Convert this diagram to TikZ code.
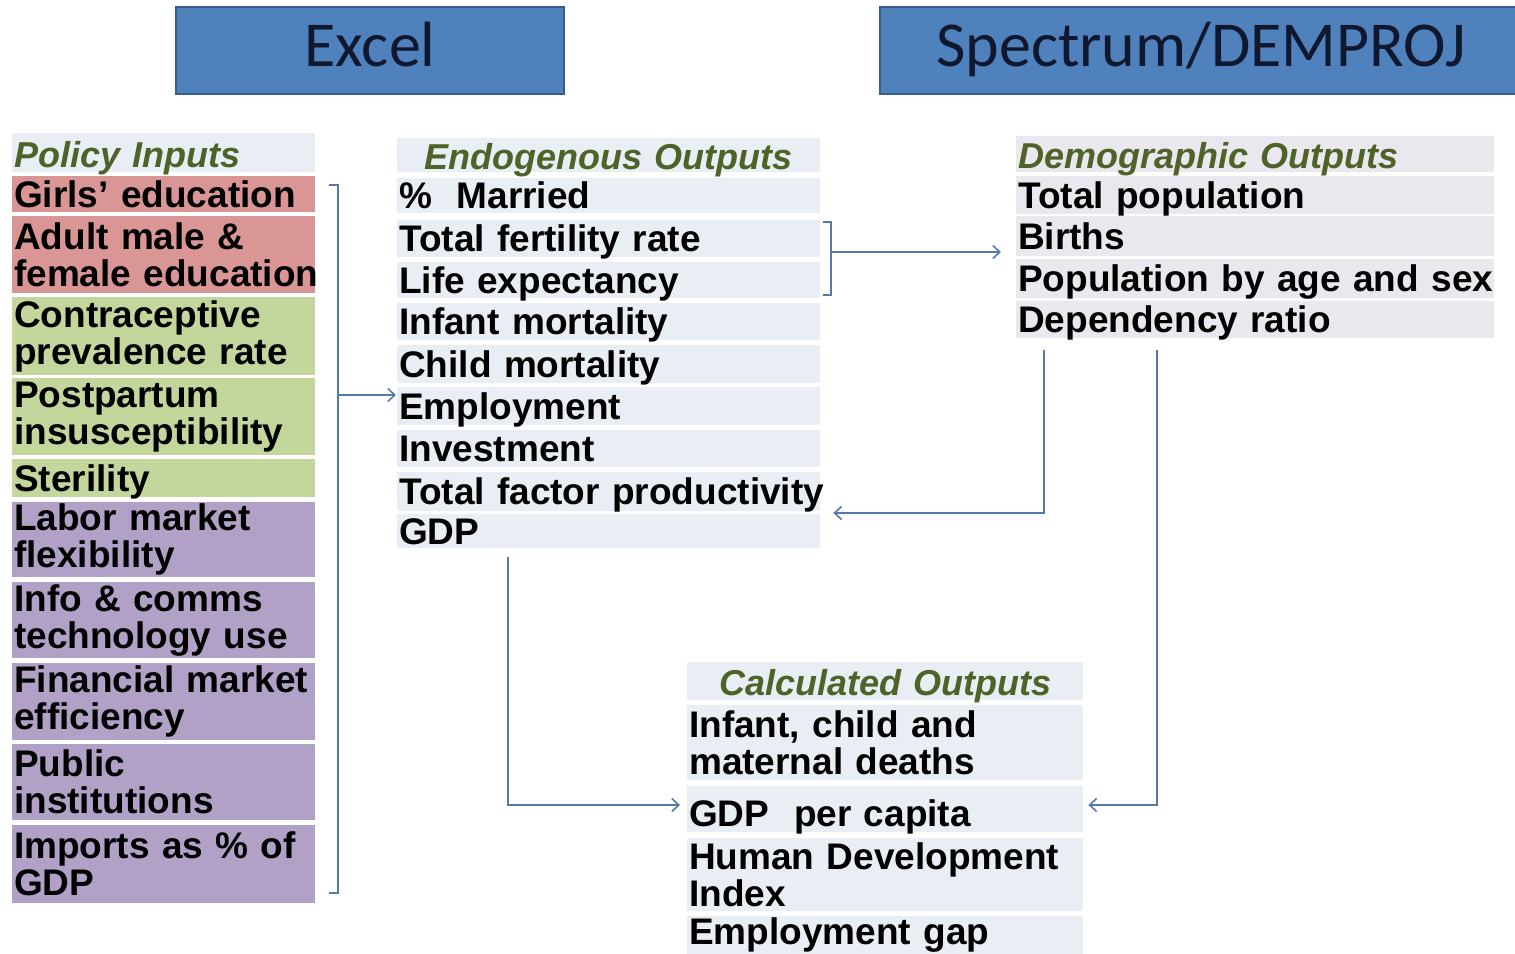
\documentclass[tikz,border=0pt]{standalone}
\usepackage{fontspec}
\setmainfont{Liberation Sans}
\newfontfamily\titlefont{Carlito}
\usetikzlibrary{arrows.meta}
\definecolor{hdrblue}{HTML}{4F81BD}
\definecolor{hdrborder}{HTML}{385D8A}
\definecolor{hdrtext}{HTML}{101830}
\definecolor{cellred}{HTML}{D99694}
\definecolor{cellgreen}{HTML}{C3D69B}
\definecolor{cellpurple}{HTML}{B2A1C7}
\definecolor{cellblue}{HTML}{E9EDF4}
\definecolor{cellgrey}{HTML}{E9E8EE}
\definecolor{olivetext}{HTML}{4F6228}
\definecolor{connblue}{HTML}{5479AD}
\newcommand{\cellfnt}{\fontsize{37}{37}\selectfont\bfseries}
\newcommand{\headfnt}{\fontsize{36}{37}\selectfont\bfseries\itshape}
\newcommand{\oneline}[1]{\mbox{#1}}
\begin{document}
\begin{tikzpicture}[x=1pt,y=-1pt,
  toolbox/.style={draw=hdrborder, line width=2pt, fill=hdrblue, text=hdrtext,
    font=\titlefont\fontsize{64}{64}\selectfont, inner sep=0pt,
    text height=43pt, text depth=12pt},
  cellbase/.style={anchor=north west, inner xsep=2pt, inner ysep=0pt, align=left,
    font=\cellfnt, text=black, minimum height=#1},
  sl/.style={text height=27pt, text depth=1pt},
  pol/.style={cellbase=#1, text width=299pt},
  endo/.style={cellbase=#1, text width=419pt, fill=cellblue},
  demo/.style={cellbase=#1, text width=474pt, fill=cellgrey},
  calc/.style={cellbase=#1, text width=392pt, fill=cellblue},
  hdrtxt/.style={font=\headfnt, text=olivetext, text height=31pt, text depth=2pt},
  conn/.style={draw=connblue, line width=2pt},
  arr/.style={conn, -{Straight Barb[length=7pt,width=13pt,line width=1.6pt]}}
]
\useasboundingbox (0,0) rectangle (1515,953);
\fill[white] (0,0) rectangle (1515,953);

% tool headers
\node[toolbox, minimum width=388pt, minimum height=87pt, anchor=north west] (excel) at (175,6) {Excel};
\node[toolbox, minimum width=642pt, minimum height=87pt, anchor=north west] (spectrum) at (879,6) {Spectrum/DEMPROJ};

% policy inputs
\node[pol=39, fill=cellblue, hdrtxt] (polhdr) at (12,133) {\oneline{Policy Inputs}};
\node[pol=36, fill=cellred, sl] (girls) at (12,176) {\oneline{Girls' education}};
\node[pol=77, fill=cellred] (adult) at (12,216) {\oneline{Adult male \&}\\\oneline{female education}};
\node[pol=78, fill=cellgreen] (contra) at (12,297) {\oneline{Contraceptive}\\\oneline{prevalence rate}};
\node[pol=77, fill=cellgreen] (postp) at (12,378) {\oneline{Postpartum}\\\oneline{insusceptibility}};
\node[pol=38, fill=cellgreen, sl] (steril) at (12,459) {\oneline{Sterility}};
\node[pol=75, fill=cellpurple] (labor) at (12,502) {\oneline{Labor market}\\\oneline{flexibility}};
\node[pol=76, fill=cellpurple] (info) at (12,582) {\oneline{Info \& comms}\\\oneline{technology use}};
\node[pol=77, fill=cellpurple] (fin) at (12,663) {\oneline{Financial market}\\\oneline{efficiency}};
\node[pol=76, fill=cellpurple] (public) at (12,744) {\oneline{Public}\\\oneline{institutions}};
\node[pol=78, fill=cellpurple] (imports) at (12,825) {\oneline{Imports as \% of}\\\oneline{GDP}};

% endogenous outputs
\node[endo=34, hdrtxt, align=center] (endohdr) at (397,138) {\oneline{Endogenous Outputs}};
\node[endo=35, sl] (married) at (397,178) {\oneline{\%\ \ Married}};
\node[endo=37, sl] (tfr) at (397,220) {\oneline{Total fertility rate}};
\node[endo=36, sl] (life) at (397,262) {\oneline{Life expectancy}};
\node[endo=37, sl] (infm) at (397,303) {\oneline{Infant mortality}};
\node[endo=38, sl] (chm) at (397,345) {\oneline{Child mortality}};
\node[endo=38, sl] (emp) at (397,387) {\oneline{Employment}};
\node[endo=37, sl] (inv) at (397,430) {\oneline{Investment}};
\node[endo=39, sl] (tfp) at (397,472) {\oneline{Total factor productivity}};
\node[endo=34, sl] (gdp) at (397,514) {\oneline{GDP}};

% demographic outputs
\node[demo=36, hdrtxt] (demohdr) at (1016,136) {\oneline{Demographic Outputs}};
\node[demo=38, sl] (totpop) at (1016,176) {\oneline{Total population}};
\node[demo=40, sl] (births) at (1016,216) {\oneline{Births}};
\node[demo=39, sl] (popage) at (1016,259) {\oneline{Population by age and sex}};
\node[demo=37, sl] (dep) at (1016,301) {\oneline{Dependency ratio}};

% calculated outputs
\node[calc=38, hdrtxt, align=center] (calchdr) at (687,662) {\oneline{Calculated Outputs}};
\node[calc=75] (deaths) at (687,705) {\oneline{Infant, child and}\\\oneline{maternal deaths}};
\node[calc=46, text height=35pt, text depth=1pt] (gdppc) at (687,786) {\oneline{GDP\ \ per capita}};
\node[calc=73] (hdi) at (687,838) {\oneline{Human Development}\\\oneline{Index}};
\node[calc=40, text height=22pt, text depth=6pt] (empgap) at (687,916) {\oneline{Employment gap}};

% connector points
\coordinate (lbTop) at (329,185);
\coordinate (lbBot) at (329,893);
\coordinate (lbMid) at (338,395);
\coordinate (mbTop) at (823,222);
\coordinate (mbBot) at (823,295);
\coordinate (mbMid) at (831,252);
\coordinate (depA) at (1044,350);
\coordinate (depB) at (1157,350);
\coordinate (gdpA) at (508,557);
\coordinate (pcRow) at (0,805);
\coordinate (tfpRow) at (0,513);

% left bracket and arrow into endogenous outputs
\draw[conn] (lbTop) -- (lbTop -| lbMid) -- (lbBot -| lbMid) -- (lbBot);
\draw[arr, shorten >=1pt] (lbMid) -- (lbMid -| emp.west);

% bracket from TFR / life expectancy to demographic outputs
\draw[conn] (mbTop) -- (mbTop -| mbMid) -- (mbBot -| mbMid) -- (mbBot);
\draw[arr, shorten >=15pt] (mbMid) -- (mbMid -| births.west);

% demographic outputs back to total factor productivity
\draw[arr, shorten >=13pt] (depA) |- (tfpRow -| tfp.east);

% demographic outputs to GDP per capita
\draw[arr, shorten >=5pt] (depB) |- (pcRow -| gdppc.east);

% GDP to GDP per capita
\draw[arr, shorten >=7pt] (gdpA) |- (pcRow -| gdppc.west);
\end{tikzpicture}
\end{document}
